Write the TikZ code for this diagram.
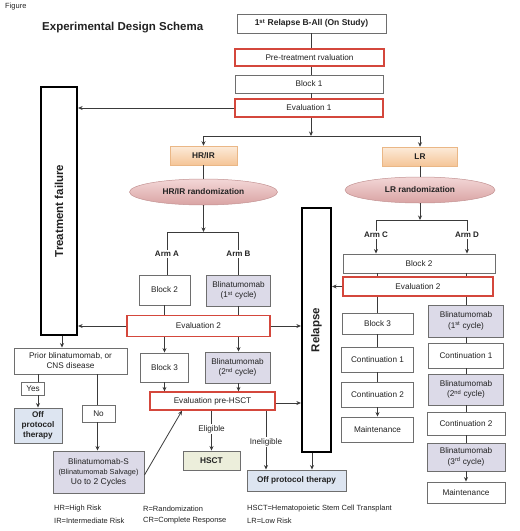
\documentclass[tikz,border=0pt]{standalone}
\usepackage{fontspec}
\setmainfont{Liberation Sans}
\usetikzlibrary{shapes.geometric,arrows.meta,calc}
\definecolor{boxgray}{HTML}{6E6E6E}
\definecolor{boxred}{HTML}{D4473C}
\definecolor{linegray}{HTML}{3A3A3A}
\definecolor{lav}{HTML}{DCDAE8}
\definecolor{offblue}{HTML}{DDE5F1}
\definecolor{hsctgreen}{HTML}{ECEEDB}
\definecolor{orangeL}{HTML}{FCEBDA}
\definecolor{orangeD}{HTML}{F5C597}
\definecolor{pinkL}{HTML}{F3D7D7}
\definecolor{pinkD}{HTML}{D9A3A3}
\definecolor{txt}{HTML}{222222}
\newcommand\fsz[2]{\fontsize{#1}{#2}\selectfont}
\tikzset{
 box/.style={draw=boxgray, line width=0.9pt, fill=white, align=center, inner sep=0pt, text=txt, font=\fsz{8.2pt}{10.5pt}},
 redbox/.style={box, draw=boxred, line width=1.3pt},
 lavbox/.style={box, fill=lav},
 bigbox/.style={draw=black, line width=2.2pt, inner sep=0pt, text=txt, font=\bfseries\fsz{11.5pt}{13pt}},
 orbox/.style={draw=orangeD!80!brown, line width=0.5pt, top color=orangeL, bottom color=orangeD, inner sep=0pt, text=txt, font=\bfseries\fsz{8.3pt}{10pt}},
 pinkell/.style={ellipse, draw=pinkD!90!black, line width=0.5pt, top color=pinkL, bottom color=pinkD, inner sep=0pt, text=txt, font=\bfseries\fsz{8.3pt}{10pt}},
 lbl/.style={inner sep=1pt, text=txt, font=\fsz{8.2pt}{10pt}},
 blbl/.style={lbl, font=\bfseries\fsz{8pt}{10pt}},
 conn/.style={draw=linegray, line width=0.8pt},
 arr/.style={conn, -{Stealth[length=4.5pt,width=4pt]}},
 leg/.style={anchor=west, inner sep=0pt, text=txt, font=\fsz{7.5pt}{9pt}},
}
\begin{document}
\begin{tikzpicture}[x=1pt,y=-1pt]
\useasboundingbox (0,0) rectangle (520,531);
% titles
\node[leg, font=\fsz{7.5pt}{9pt}] (figlbl) at (5,7) {Figure};
\node[anchor=west, inner sep=0pt, text=txt, font=\bfseries\fsz{11.5pt}{13pt}] (title) at (42,28) {Experimental Design Schema};
% top chain
\node[box, minimum width=149pt, minimum height=19pt, font=\bfseries\fsz{8.5pt}{10pt}] (r1) at (311.5,23.5) {1\textsuperscript{st} Relapse B-All (On Study)};
\node[redbox, minimum width=149pt, minimum height=17pt] (pre) at (309.5,57.5) {Pre-treatment rvaluation};
\node[box, minimum width=148pt, minimum height=18pt] (block1) at (309,84) {Block 1};
\node[redbox, minimum width=148pt, minimum height=18pt] (eval1) at (309,108) {Evaluation 1};
% big side boxes
\node[bigbox, minimum width=36pt, minimum height=248pt] (tf) at (59,211) {\rotatebox{90}{Treatment failure}};
\node[bigbox, minimum width=29pt, minimum height=244pt] (relapse) at (316.5,330) {\rotatebox{90}{Relapse}};
% risk groups
\node[orbox, minimum width=67pt, minimum height=19pt] (hrir) at (203.5,155.5) {HR/IR};
\node[orbox, minimum width=75pt, minimum height=19pt] (lr) at (420,156.5) {LR};
\node[pinkell, minimum width=148pt, minimum height=26pt] (hrirrand) at (203.5,192) {HR/IR randomization};
\node[pinkell, minimum width=150pt, minimum height=26pt] (lrrand) at (420,190) {LR randomization};
% arms
\node[blbl] (armA) at (167,254) {Arm A};
\node[blbl] (armB) at (238.5,254) {Arm B};
\node[blbl] (armC) at (376,235) {Arm C};
\node[blbl] (armD) at (467,235) {Arm D};
% HR/IR branch
\node[box, minimum width=51pt, minimum height=30pt] (block2a) at (164.5,290) {Block 2};
\node[lavbox, minimum width=64pt, minimum height=31pt] (blina1a) at (238.5,290.5) {Blinatumomab\\(1\textsuperscript{st} cycle)};
\node[redbox, minimum width=143pt, minimum height=21pt] (eval2a) at (198.5,326) {Evaluation 2};
\node[box, minimum width=48pt, minimum height=29pt] (block3a) at (164.5,367.5) {Block 3};
\node[lavbox, minimum width=65pt, minimum height=31pt] (blina2a) at (237.5,367.5) {Blinatumomab\\(2\textsuperscript{nd} cycle)};
\node[redbox, minimum width=125pt, minimum height=18pt] (evalpre) at (212.5,401) {Evaluation pre-HSCT};
\node[lbl] (elig) at (211.5,429) {Eligible};
\node[lbl] (inelig) at (266,442) {Ineligible};
\node[box, fill=hsctgreen, minimum width=57pt, minimum height=19pt, font=\bfseries\fsz{8.3pt}{10pt}] (hsct) at (211.5,460.5) {HSCT};
\node[box, fill=offblue, minimum width=99pt, minimum height=21pt, font=\bfseries\fsz{8.2pt}{10pt}] (off2) at (296.5,480.5) {Off protocol therapy};
% LR branch
\node[box, minimum width=152pt, minimum height=19pt] (block2b) at (419,263.5) {Block 2};
\node[redbox, minimum width=150pt, minimum height=19pt] (eval2b) at (418,286.5) {Evaluation 2};
\node[box, minimum width=71pt, minimum height=21pt] (block3b) at (377.5,323.5) {Block 3};
\node[box, minimum width=72pt, minimum height=25pt] (cont1b) at (377.5,359.5) {Continuation 1};
\node[box, minimum width=72pt, minimum height=25pt] (cont2b) at (377.5,394.5) {Continuation 2};
\node[box, minimum width=72pt, minimum height=25pt] (maintb) at (377.5,429.5) {Maintenance};
\node[lavbox, minimum width=75pt, minimum height=32pt] (blina1d) at (466,321) {Blinatumomab\\(1\textsuperscript{st} cycle)};
\node[box, minimum width=75pt, minimum height=25pt] (cont1d) at (466,355.5) {Continuation 1};
\node[lavbox, minimum width=75pt, minimum height=31pt] (blina2d) at (466,389.5) {Blinatumomab\\(2\textsuperscript{nd} cycle)};
\node[box, minimum width=78pt, minimum height=23pt] (cont2d) at (466,423.5) {Continuation 2};
\node[lavbox, minimum width=78pt, minimum height=28pt] (blina3d) at (466,457) {Blinatumomab\\(3\textsuperscript{rd} cycle)};
\node[box, minimum width=78pt, minimum height=21pt] (maintd) at (466,492.5) {Maintenance};
% treatment failure branch
\node[box, minimum width=113pt, minimum height=26pt, font=\fsz{8.2pt}{10pt}] (prior) at (70.5,361) {Prior blinatumomab, or\\CNS disease};
\node[box, minimum width=23pt, minimum height=13pt] (yes) at (33,388.5) {Yes};
\node[box, fill=offblue, minimum width=48pt, minimum height=35pt, font=\bfseries\fsz{8.2pt}{10pt}] (off1) at (38,425.5) {Off\\protocol\\therapy};
\node[box, minimum width=33pt, minimum height=17pt] (no) at (98.5,413.5) {No};
\node[lavbox, minimum width=91pt, minimum height=42pt, font=\fsz{8.2pt}{10pt}] (blinas) at (98.5,472) {Blinatumomab-S\\{\fsz{7.3pt}{10pt}(Blinatumomab Salvage)}\\{\fsz{8.5pt}{10pt}Uo to 2 Cycles}};
% legend
\node[leg] (leg1) at (54,509) {HR=High Risk};
\node[leg] (leg2) at (54,521) {IR=Intermediate Risk};
\node[leg] (leg3) at (143,509) {R=Randomization};
\node[leg] (leg4) at (143,521) {CR=Complete Response};
\node[leg] (leg5) at (247,509) {HSCT=Hematopoietic Stem Cell Transplant};
\node[leg] (leg6) at (247,521) {LR=Low Risk};
% ---- connectors ----
\coordinate (b1) at (311,136);
\draw[conn] (r1.south -| b1) -- (pre.north -| b1);
\draw[conn] (pre.south -| b1) -- (block1.north -| b1);
\draw[conn] (block1.south -| b1) -- (eval1.north -| b1);
\draw[arr] (eval1.south -| b1) -- (b1);
\draw[conn] (b1 -| hrir) -- (b1 -| lr);
\draw[arr] (b1 -| hrir) -- (hrir.north);
\draw[arr] (b1 -| lr) -- (lr.north);
\draw[arr] (eval1.west) -- (eval1.west -| tf.east);
\draw[conn] (hrir.south) -- (hrirrand.north);
\draw[conn] (lr.south) -- (lrrand.north);
% HR/IR
\coordinate (b2) at (203.5,232);
\draw[arr] (hrirrand.south) -- (b2);
\draw[conn] (b2 -| armA) -- (b2 -| armB);
\draw[conn] (b2 -| armA) -- (armA.north);
\draw[conn] (b2 -| armB) -- (armB.north);
\draw[conn] (armA.south) -- (armA.south |- block2a.north);
\draw[conn] (armB.south) -- (armB.south |- blina1a.north);
\draw[conn] (block2a.south) -- (block2a.south |- eval2a.north);
\draw[conn] (blina1a.south) -- (blina1a.south |- eval2a.north);
\draw[arr] (eval2a.south -| block3a) -- (block3a.north);
\draw[arr] (eval2a.south -| blina1a) -- (blina1a.south |- blina2a.north);
\draw[arr] (block3a.south) -- (block3a.south |- evalpre.north);
\draw[arr] (blina2a.south -| blina1a) -- (blina1a.south |- evalpre.north);
\draw[arr] (eval2a.west) -- (eval2a.west -| tf.east);
\draw[arr] (eval2a.east) -- (eval2a.east -| relapse.west);
\draw[arr] ([yshift=-2pt]evalpre.east) -- ([yshift=-2pt]evalpre.east -| relapse.west);
\draw[conn] (evalpre.south -| elig) -- (elig.north);
\draw[arr] (elig.south) -- (hsct.north);
\draw[conn] (evalpre.south -| inelig) -- (inelig.north);
\draw[arr] (inelig.south) -- (inelig.south |- off2.north);
\coordinate (rx) at (312,0);
\draw[arr] (relapse.south -| rx) -- (off2.north -| rx);
% LR
\coordinate (b3) at (420,220);
\draw[arr] (lrrand.south) -- (b3);
\draw[conn] (b3 -| armC) -- (b3 -| armD);
\draw[conn] (b3 -| armC) -- (armC.north);
\draw[conn] (b3 -| armD) -- (armD.north);
\draw[arr] (armC.south) -- (armC.south |- block2b.north);
\draw[arr] (armD.south) -- (armD.south |- block2b.north);
\draw[conn] (block2b.south -| block3b) -- (eval2b.north -| block3b);
\draw[conn] (block2b.south -| blina1d) -- (eval2b.north -| blina1d);
\draw[arr] (eval2b.west) -- (eval2b.west -| relapse.east);
\draw[conn] (eval2b.south -| block3b) -- (block3b.north);
\draw[conn] (block3b.south) -- (cont1b.north);
\draw[conn] (cont1b.south) -- (cont2b.north);
\draw[arr] (cont2b.south) -- (maintb.north);
\draw[conn] (eval2b.south -| blina1d) -- (blina1d.north);
\draw[conn] (blina1d.south) -- (cont1d.north);
\draw[conn] (cont1d.south) -- (blina2d.north);
\draw[conn] (blina2d.south) -- (cont2d.north);
\draw[conn] (cont2d.south) -- (blina3d.north);
\draw[arr] (blina3d.south) -- (maintd.north);
% treatment failure branch
\coordinate (tfx) at (62,0);
\draw[arr] (tf.south -| tfx) -- (prior.north -| tfx);
\coordinate (yx) at (38,0);
\draw[conn] (prior.south -| yx) -- (yes.north -| yx);
\draw[arr] (yes.south -| yx) -- (off1.north -| yx);
\coordinate (nx) at (97.5,0);
\draw[conn] (prior.south -| nx) -- (no.north -| nx);
\draw[arr] (no.south -| nx) -- (blinas.north -| nx);
\coordinate (sx) at (182,0);
\draw[arr] ([yshift=-3pt]blinas.east) -- (evalpre.south -| sx);
\end{tikzpicture}
\end{document}
